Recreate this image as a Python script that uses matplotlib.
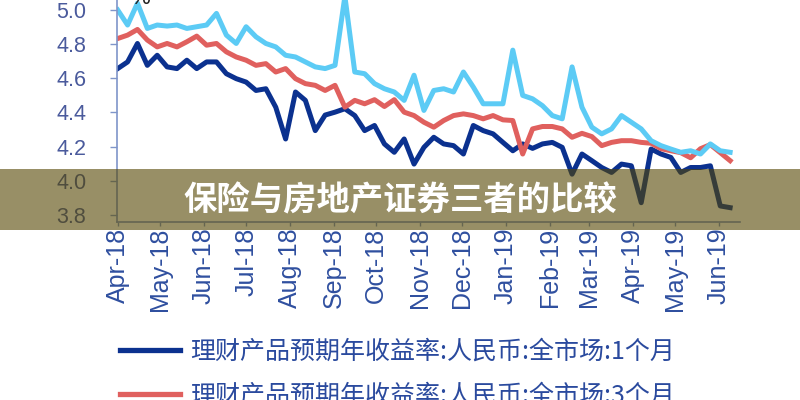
import matplotlib
matplotlib.use("Agg")
import matplotlib.pyplot as plt
import matplotlib.dates as mdates
from matplotlib.patches import Rectangle
import pandas as pd

plt.rcParams['font.family'] = ['Liberation Sans', 'Noto Sans CJK SC', 'DejaVu Sans']

# ---------------- data ----------------
dates = pd.date_range("2018-04-01", periods=63, freq="7D")

yield_1m = [4.657, 4.696, 4.804, 4.676, 4.735, 4.667, 4.657, 4.706, 4.657, 4.696,
            4.696, 4.627, 4.598, 4.578, 4.529, 4.539, 4.431, 4.245, 4.520, 4.471,
            4.294, 4.385, 4.402, 4.422, 4.382, 4.294, 4.324, 4.216, 4.167, 4.245,
            4.098, 4.196, 4.255, 4.216, 4.206, 4.157, 4.324, 4.294, 4.275, 4.225,
            4.176, 4.216, 4.190, 4.216, 4.225, 4.196, 4.039, 4.157, 4.118, 4.078,
            4.049, 4.098, 4.088, 3.872, 4.186, 4.157, 4.137, 4.049, 4.078, 4.078,
            4.088, 3.853, 3.843]

yield_3m = [4.833, 4.853, 4.886, 4.824, 4.784, 4.804, 4.784, 4.814, 4.847, 4.794,
            4.804, 4.755, 4.725, 4.706, 4.676, 4.686, 4.637, 4.657, 4.598, 4.569,
            4.559, 4.529, 4.559, 4.431, 4.471, 4.451, 4.475, 4.435, 4.475, 4.402,
            4.382, 4.343, 4.314, 4.353, 4.382, 4.392, 4.382, 4.363, 4.382, 4.357,
            4.353, 4.157, 4.304, 4.318, 4.318, 4.304, 4.255, 4.278, 4.259, 4.206,
            4.225, 4.235, 4.235, 4.225, 4.220, 4.188, 4.176, 4.165, 4.135, 4.188,
            4.212, 4.165, 4.118]

yield_6m = [5.000, 4.912, 5.040, 4.892, 4.912, 4.906, 4.912, 4.892, 4.902, 4.912,
            4.980, 4.853, 4.804, 4.902, 4.843, 4.804, 4.784, 4.735, 4.725, 4.696,
            4.667, 4.657, 4.676, 5.080, 4.637, 4.627, 4.569, 4.539, 4.520, 4.471,
            4.618, 4.412, 4.529, 4.539, 4.520, 4.637, 4.549, 4.451, 4.451, 4.451,
            4.765, 4.500, 4.480, 4.440, 4.382, 4.363, 4.667, 4.431, 4.314, 4.275,
            4.304, 4.382, 4.343, 4.304, 4.235, 4.206, 4.186, 4.167, 4.176, 4.157,
            4.216, 4.176, 4.167]

labels = ["理财产品预期年收益率:人民币:全市场:1个月",
          "理财产品预期年收益率:人民币:全市场:3个月",
          "理财产品预期年收益率:人民币:全市场:6个月"]
y_ticks = [3.8, 4.0, 4.2, 4.4, 4.6, 4.8, 5.0]
tick_months = pd.date_range("2018-04-01", "2019-06-01", freq="MS")
banner_title = "保险与房地产证券三者的比较"

# ---------------- figure ----------------
fig = plt.figure(figsize=(8, 4), dpi=100)
ax = fig.add_axes([117 / 800, 1 - 222 / 400, 623 / 800, 222 / 400])

c_dark, c_red, c_light = "#0b318f", "#e0605e", "#5ccbf5"
l1, = ax.plot(dates, yield_1m, color=c_dark, lw=3.6, solid_joinstyle="round")
l2, = ax.plot(dates, yield_3m, color=c_red, lw=3.6, solid_joinstyle="round")
l3, = ax.plot(dates, yield_6m, color=c_light, lw=3.6, solid_joinstyle="round")

x0 = mdates.date2num(pd.Timestamp("2018-04-01"))
ax.set_xlim(x0 - 0.5, x0 - 0.5 + 441.5)
ax.set_ylim(3.759, 5.0585)

spine_c = "#7f95c9"
for s in ["top", "right"]:
    ax.spines[s].set_visible(False)
for s in ["left", "bottom"]:
    ax.spines[s].set_color(spine_c)
    ax.spines[s].set_linewidth(1.2)

ax.set_yticks(y_ticks)
ax.set_yticklabels([f"{v:.1f}" for v in y_ticks])
ax.set_xticks(tick_months)
ax.set_xticklabels([d.strftime("%b-%y") for d in tick_months], rotation=90, va="top")

ax.tick_params(axis="y", direction="out", length=5, width=1, color=spine_c,
               labelcolor="#4a5a9c", labelsize=15.5, pad=17)
ax.tick_params(axis="x", direction="out", length=3, width=1, color=spine_c,
               labelcolor="#2f4f9f", labelsize=18, pad=1)

fig.text(0.175, 1.005, "%", fontsize=16, color="#222222", ha="center", va="center")

leg = fig.legend([l1, l2, l3], labels, loc="upper left",
                 bbox_to_anchor=(120 / 800, 1 - 339 / 400), frameon=False,
                 borderpad=0, borderaxespad=0, handlelength=2.4, handletextpad=0.4,
                 labelspacing=0.7, prop={"family": ["Noto Sans CJK SC"], "size": 18},
                 labelcolor="#2a4a9e")
for h in leg.get_lines():
    h.set_linewidth(3.8)

# banner overlay
fig.patches.append(Rectangle((0, 1 - 230 / 400), 1, 61 / 400, transform=fig.transFigure,
                             facecolor=(0.33, 0.27, 0.0), alpha=0.6, edgecolor="none",
                             zorder=10))
fig.text(0.5, 1 - 201 / 400, banner_title, color="white", fontsize=24, fontweight="bold",
         ha="center", va="center", family=["Noto Sans CJK SC"], zorder=11)

fig.savefig("out.png", dpi=100)
